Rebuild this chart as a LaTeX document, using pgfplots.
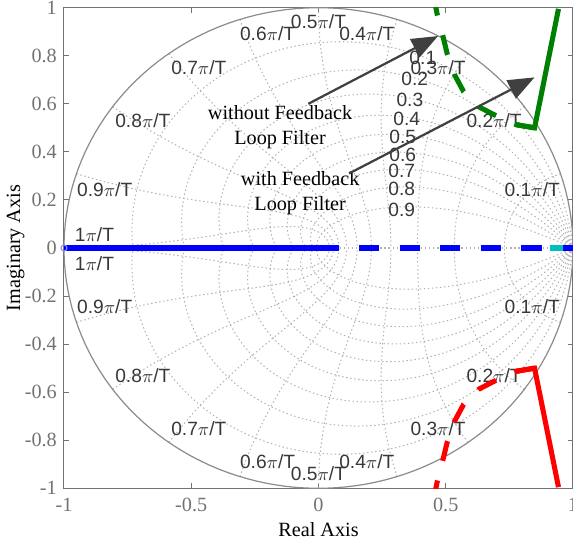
\documentclass[border=0pt]{standalone}
\usepackage{fontspec}
\setmainfont{Liberation Serif}
\newfontfamily\lsans{Liberation Sans}
\usepackage{pgfplots}
\pgfplotsset{compat=1.18}
\usetikzlibrary{arrows.meta}
\definecolor{mgreen}{rgb}{0,0.5,0}
\definecolor{mcyan}{rgb}{0,0.75,0.75}
\definecolor{axgray}{gray}{0.45}
\definecolor{gridgray}{gray}{0.7}
\definecolor{circgray}{gray}{0.55}
\definecolor{lblgray}{gray}{0.22}
\definecolor{arrgray}{gray}{0.25}
\begin{document}
\begin{tikzpicture}[trim axis right]
\begin{axis}[
  scale only axis, width=251bp, height=237bp,
  xmin=-1, xmax=1, ymin=-1, ymax=1,
  xtick={-1,-0.5,0,0.5,1},
  ytick={-1,-0.8,-0.6,-0.4,-0.2,0,0.2,0.4,0.6,0.8,1},
  tick align=inside, major tick length=2.5bp,
  axis line style={axgray, line width=0.5bp},
  every tick/.style={axgray, line width=0.5bp},
  tick label style={text=axgray, font=\fontsize{10}{12}\selectfont},
  xticklabel style={yshift=-1.2bp},
  yticklabel style={inner ysep=0.5bp},
  /pgf/number format/assume math mode=true,
  xlabel={Real Axis}, ylabel={Imaginary Axis},
  label style={font=\fontsize{10}{12}\selectfont},
  x label style={at={(axis description cs:0.5,-0.085)}, anchor=center},
  y label style={at={(axis description cs:-0.095,0.5)}, anchor=center},
  trig format plots=rad,
  clip=true,
]
% ---- z-plane grid (zgrid) ----
\addplot[gridgray, line width=0.5bp, dash pattern=on 0.7bp off 1.3bp] coordinates {(-1,0) (1,0)};
\pgfplotsinvokeforeach{0.1,0.2,0.3,0.4,0.5,0.6,0.7,0.8,0.9}{
  \addplot[gridgray, line width=0.5bp, dash pattern=on 0.7bp off 1.3bp, domain=0:pi, samples=70, variable=\u]
    ({exp(-#1*\u/sqrt(1-#1^2))*cos(\u)}, {exp(-#1*\u/sqrt(1-#1^2))*sin(\u)});
  \addplot[gridgray, line width=0.5bp, dash pattern=on 0.7bp off 1.3bp, domain=0:pi, samples=70, variable=\u]
    ({exp(-#1*\u/sqrt(1-#1^2))*cos(\u)}, {-exp(-#1*\u/sqrt(1-#1^2))*sin(\u)});
}
\pgfplotsinvokeforeach{0.1,0.2,0.3,0.4,0.5,0.6,0.7,0.8,0.9,1.0}{
  \addplot[gridgray, line width=0.5bp, dash pattern=on 0.7bp off 1.3bp, domain=0:pi/2, samples=40, variable=\t]
    ({exp(-#1*pi*sin(\t))*cos(#1*pi*cos(\t))}, {exp(-#1*pi*sin(\t))*sin(#1*pi*cos(\t))});
  \addplot[gridgray, line width=0.5bp, dash pattern=on 0.7bp off 1.3bp, domain=0:pi/2, samples=40, variable=\t]
    ({exp(-#1*pi*sin(\t))*cos(#1*pi*cos(\t))}, {-exp(-#1*pi*sin(\t))*sin(#1*pi*cos(\t))});
}
\addplot[circgray, line width=0.6bp, domain=0:2*pi, samples=160, variable=\t] ({cos(\t)}, {sin(\t)});
% ---- grid labels ----
\begin{scope}[every node/.style={font=\lsans\fontsize{9.5}{11}\selectfont, text=lblgray, inner sep=0pt}]
\node at (axis cs:0.84,0.244) {0.1$\pi$/T};
\node at (axis cs:0.69,0.53) {0.2$\pi$/T};
\node at (axis cs:0.47,0.75) {0.3$\pi$/T};
\node at (axis cs:0.19,0.89) {0.4$\pi$/T};
\node at (axis cs:0.0,0.94) {0.5$\pi$/T};
\node at (axis cs:-0.2,0.89) {0.6$\pi$/T};
\node at (axis cs:-0.47,0.75) {0.7$\pi$/T};
\node at (axis cs:-0.69,0.53) {0.8$\pi$/T};
\node at (axis cs:-0.84,0.244) {0.9$\pi$/T};
\node at (axis cs:-0.88,0.055) {1$\pi$/T};
\node at (axis cs:0.84,-0.244) {0.1$\pi$/T};
\node at (axis cs:0.69,-0.53) {0.2$\pi$/T};
\node at (axis cs:0.47,-0.75) {0.3$\pi$/T};
\node at (axis cs:0.19,-0.89) {0.4$\pi$/T};
\node at (axis cs:0.0,-0.94) {0.5$\pi$/T};
\node at (axis cs:-0.2,-0.89) {0.6$\pi$/T};
\node at (axis cs:-0.47,-0.75) {0.7$\pi$/T};
\node at (axis cs:-0.69,-0.53) {0.8$\pi$/T};
\node at (axis cs:-0.84,-0.244) {0.9$\pi$/T};
\node at (axis cs:-0.88,-0.063) {1$\pi$/T};
\node at (axis cs:0.410,0.790) {0.1};
\node at (axis cs:0.378,0.702) {0.2};
\node at (axis cs:0.359,0.618) {0.3};
\node at (axis cs:0.347,0.538) {0.4};
\node at (axis cs:0.331,0.462) {0.5};
\node at (axis cs:0.331,0.387) {0.6};
\node at (axis cs:0.327,0.319) {0.7};
\node at (axis cs:0.327,0.248) {0.8};
\node at (axis cs:0.327,0.160) {0.9};
\end{scope}
% ---- root loci ----
\addplot[blue, line width=2.5bp] coordinates {(-1,0) (0.08,0)};
\addplot[blue, line width=2.5bp, dash pattern=on 10bp off 10bp] coordinates {(0,0) (1,0)};
\addplot[mcyan, line width=2.5bp] coordinates {(0.908,0) (0.962,0)};
\addplot[only marks, mark=o, mark size=1.5bp, color=blue!45, mark options={line width=0.5bp}] coordinates {(-1,0)};
% without feedback loop filter (dashed)
\addplot[mgreen, line width=2.5bp, dash pattern=on 10bp off 10bp] coordinates {
 (0.452,1.05) (0.466,0.975) (0.487,0.89) (0.506,0.807) (0.535,0.72) (0.570,0.651)
 (0.629,0.588) (0.689,0.555) (0.777,0.513) (0.849,0.500)};
\addplot[red, line width=2.5bp, dash pattern=on 10bp off 10bp] coordinates {
 (0.452,-1.05) (0.466,-0.975) (0.487,-0.89) (0.506,-0.807) (0.535,-0.72) (0.570,-0.651)
 (0.629,-0.588) (0.689,-0.555) (0.777,-0.513) (0.849,-0.500)};
% with feedback loop filter (solid)
\addplot[mgreen, line width=2.5bp] coordinates {(0.777,0.513) (0.849,0.500) (0.943,0.995)};
\addplot[red, line width=2.5bp] coordinates {(0.777,-0.513) (0.849,-0.500) (0.943,-0.995)};
% ---- annotations ----
\node[align=center, font=\fontsize{10}{12.5}\selectfont] at (axis cs:-0.151,0.504) {without Feedback\\Loop Filter};
\node[align=center, font=\fontsize{10}{12.5}\selectfont] at (axis cs:-0.072,0.227) {with Feedback\\Loop Filter};
\draw[arrgray, line width=1.1bp, -{Triangle[length=13bp,width=10bp]}] (axis cs:-0.04,0.60) -- (axis cs:0.47,0.882);
\draw[arrgray, line width=1.1bp, -{Triangle[length=13bp,width=10bp]}] (axis cs:0.12,0.31) -- (axis cs:0.849,0.71);
\end{axis}
\end{tikzpicture}
\end{document}
